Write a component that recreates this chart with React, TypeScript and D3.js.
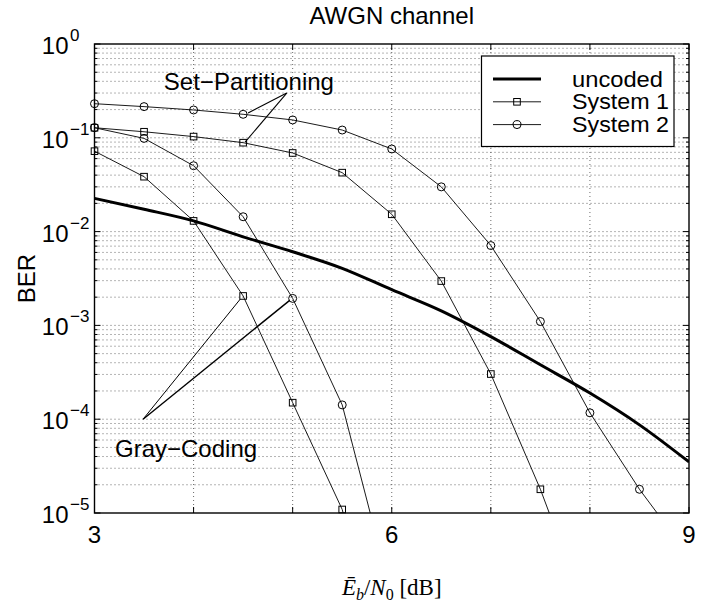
import * as d3 from 'd3'

// Eb/N0 grid [dB]
const ebn0 = [3, 3.5, 4, 4.5, 5, 5.5, 6, 6.5, 7, 7.5, 8, 8.5, 9]

// BER values
const uncoded = [0.0226, 0.0173, 0.013, 0.0088, 0.0061, 0.00406, 0.0024, 0.00143, 7.6e-4, 3.8e-4, 1.9e-4, 8.7e-5, 3.5e-5]
const sys1SetPart = [0.128, 0.116, 0.103, 0.0887, 0.0689, 0.0425, 0.0153, 0.00297, 3.03e-4, 1.79e-5, 7e-7]
const sys1Gray = [0.072, 0.0385, 0.013, 0.00206, 1.5e-4, 1.09e-5, 1e-7]
const sys2SetPart = [0.231, 0.215, 0.198, 0.178, 0.155, 0.121, 0.076, 0.03, 0.0071, 0.0011, 1.17e-4, 1.79e-5, 3.5e-6]
const sys2Gray = [0.128, 0.0986, 0.0504, 0.0144, 0.00194, 1.42e-4, 1.3e-6]

const xTicks = [3, 4, 5, 6, 7, 8, 9]
const xTickLabels = ['3', '', '', '6', '', '', '9']
const yDecades = [0, -1, -2, -3, -4, -5]

const legendItems = [
  { label: 'uncoded', marker: 'none' },
  { label: 'System 1', marker: 'square' },
  { label: 'System 2', marker: 'circle' },
]

const W = 708
const H = 605
const margin = { left: 94.5, right: 19, top: 44, bottom: 92 }
const FONT = '"Liberation Sans", Arial, Helvetica, sans-serif'

const x = d3.scaleLinear().domain([3, 9]).range([margin.left, W - margin.right])
const y = d3.scaleLog().domain([1e-5, 1]).range([H - margin.bottom, margin.top])

const toPts = (vals: number[]) => vals.map((v, i) => [ebn0[i], v] as [number, number])

const Marker = ({ type, cx, cy }: { type: string; cx: number; cy: number }) => {
  if (type === 'square')
    return <rect x={cx - 3.3} y={cy - 3.3} width={6.6} height={6.6} fill='none' stroke='#000' strokeWidth={1} />
  if (type === 'circle') return <circle cx={cx} cy={cy} r={4} fill='none' stroke='#000' strokeWidth={1} />
  return null
}

const App = () => {
  const [x0, x1] = x.range()
  const [y0, y1] = y.range() // y0 bottom, y1 top

  const line = d3
    .line<[number, number]>()
    .x((d) => x(d[0]))
    .y((d) => y(d[1]))
  const smooth = d3
    .line<[number, number]>()
    .x((d) => x(d[0]))
    .y((d) => y(d[1]))
    .curve(d3.curveMonotoneX)

  const minorY: number[] = []
  yDecades.slice(0, -1).forEach((e) => {
    for (let k = 2; k <= 9; k++) minorY.push(k * Math.pow(10, e - 1))
  })

  const marked = [
    { vals: sys1SetPart, marker: 'square' },
    { vals: sys1Gray, marker: 'square' },
    { vals: sys2SetPart, marker: 'circle' },
    { vals: sys2Gray, marker: 'circle' },
  ]

  // annotation leader lines in data coordinates
  const setPartLines = [
    [[4.94, 0.3], [4.55, 0.184]],
    [[4.94, 0.3], [4.52, 0.09]],
  ]
  const grayLines = [
    [[3.49, 1e-4], [4.47, 0.0019]],
    [[3.49, 1e-4], [4.97, 0.00185]],
  ]

  const lgX = 481.5
  const lgY = 56

  return (
    <svg width={W} height={H} style={{ position: 'absolute', left: 0, top: 0, background: '#fff' }}>
      <defs>
        <clipPath id='plot'>
          <rect x={x0} y={y1} width={x1 - x0} height={y0 - y1} />
        </clipPath>
      </defs>
      <rect x={0} y={0} width={W} height={H} fill='#fff' />

      {/* grid */}
      <g stroke='#444' strokeWidth={0.8} strokeDasharray='1 3'>
        {xTicks.slice(1, -1).map((t) => (
          <line key={'gx' + t} x1={x(t)} x2={x(t)} y1={y1} y2={y0} />
        ))}
        {yDecades.slice(1, -1).map((e) => (
          <line key={'gy' + e} x1={x0} x2={x1} y1={y(Math.pow(10, e))} y2={y(Math.pow(10, e))} />
        ))}
        {minorY.map((v) => (
          <line key={'gm' + v} x1={x0} x2={x1} y1={y(v)} y2={y(v)} />
        ))}
      </g>

      {/* ticks */}
      <g stroke='#000' strokeWidth={1}>
        {xTicks.map((t) => (
          <g key={'tx' + t}>
            <line x1={x(t)} x2={x(t)} y1={y0} y2={y0 - 6} />
            <line x1={x(t)} x2={x(t)} y1={y1} y2={y1 + 6} />
          </g>
        ))}
        {yDecades.map((e) => (
          <g key={'ty' + e}>
            <line x1={x0} x2={x0 + 6} y1={y(Math.pow(10, e))} y2={y(Math.pow(10, e))} />
            <line x1={x1} x2={x1 - 6} y1={y(Math.pow(10, e))} y2={y(Math.pow(10, e))} />
          </g>
        ))}
        {minorY.map((v) => (
          <g key={'tm' + v}>
            <line x1={x0} x2={x0 + 3} y1={y(v)} y2={y(v)} />
            <line x1={x1} x2={x1 - 3} y1={y(v)} y2={y(v)} />
          </g>
        ))}
      </g>

      {/* data */}
      <g clipPath='url(#plot)'>
        <path d={smooth(toPts(uncoded)) || ''} fill='none' stroke='#000' strokeWidth={3} />
        {marked.map((s, i) => (
          <path key={'l' + i} d={line(toPts(s.vals)) || ''} fill='none' stroke='#000' strokeWidth={0.9} />
        ))}
      </g>
      {marked.map((s, i) =>
        toPts(s.vals)
          .filter((p) => p[1] >= 9.5e-6)
          .map((p, j) => <Marker key={'m' + i + '-' + j} type={s.marker} cx={x(p[0])} cy={y(p[1])} />)
      )}

      {/* annotations */}
      <g stroke='#000' fill='none'>
        {setPartLines.map((l, i) => (
          <line key={'sp' + i} x1={x(l[0][0])} y1={y(l[0][1])} x2={x(l[1][0])} y2={y(l[1][1])} strokeWidth={1.1} />
        ))}
        {grayLines.map((l, i) => (
          <line key={'gc' + i} x1={x(l[0][0])} y1={y(l[0][1])} x2={x(l[1][0])} y2={y(l[1][1])} strokeWidth={i ? 1.4 : 1} />
        ))}
      </g>
      <g fontFamily={FONT} fontSize={24} fill='#000'>
        <text x={x(3.7)} y={y(0.323)}>Set−Partitioning</text>
        <text x={x(3.207)} y={y(3.98e-5)}>Gray−Coding</text>
      </g>

      {/* box */}
      <rect x={x0} y={y1} width={x1 - x0} height={y0 - y1} fill='none' stroke='#000' strokeWidth={1.4} />

      {/* legend */}
      <rect x={lgX} y={lgY} width={192.5} height={90.5} fill='#fff' stroke='#000' strokeWidth={1.2} />
      {legendItems.map((it, i) => {
        const ly = lgY + 23 + i * 22.8
        return (
          <g key={it.label}>
            <line x1={493} x2={541} y1={ly} y2={ly} stroke='#000' strokeWidth={it.marker === 'none' ? 3 : 0.9} />
            <Marker type={it.marker} cx={517} cy={ly} />
            <text x={572} y={ly + 7.5} fontFamily={FONT} fontSize={22} textLength={it.label === 'uncoded' ? 91 : 97} lengthAdjust='spacingAndGlyphs'>
              {it.label}
            </text>
          </g>
        )
      })}

      {/* tick labels */}
      <g fontFamily={FONT} fill='#000'>
        {xTicks.map((t, i) =>
          xTickLabels[i] ? (
            <text key={'xl' + t} x={x(t)} y={y0 + 30} fontSize={24} textAnchor='middle'>
              {xTickLabels[i]}
            </text>
          ) : null
        )}
        {yDecades.map((e) => (
          <g key={'yl' + e}>
            <text x={68.5} y={y(Math.pow(10, e)) + 10} fontSize={24} textAnchor='end'>
              10
            </text>
            <text x={70} y={y(Math.pow(10, e)) - 3} fontSize={17}>
              {e === 0 ? '0' : '−' + -e}
            </text>
          </g>
        ))}
      </g>

      {/* title and axis labels */}
      <text x={(x0 + x1) / 2} y={24} fontFamily={FONT} fontSize={24} textAnchor='middle'>
        AWGN channel
      </text>
      <text
        transform={`translate(35, ${(y0 + y1) / 2}) rotate(-90)`}
        fontFamily={FONT}
        fontSize={24}
        textAnchor='middle'
      >
        BER
      </text>
      <text x={(x0 + x1) / 2} y={595} fontFamily='"Liberation Serif", "Times New Roman", serif' fontSize={23} textAnchor='middle'>
        <tspan fontStyle='italic'>Ē</tspan>
        <tspan fontStyle='italic' fontSize={16} dy={5}>b</tspan>
        <tspan dy={-5}>/</tspan>
        <tspan fontStyle='italic'>N</tspan>
        <tspan fontSize={16} dy={5}>0</tspan>
        <tspan dy={-5}> [dB]</tspan>
      </text>
    </svg>
  )
}

export default App
